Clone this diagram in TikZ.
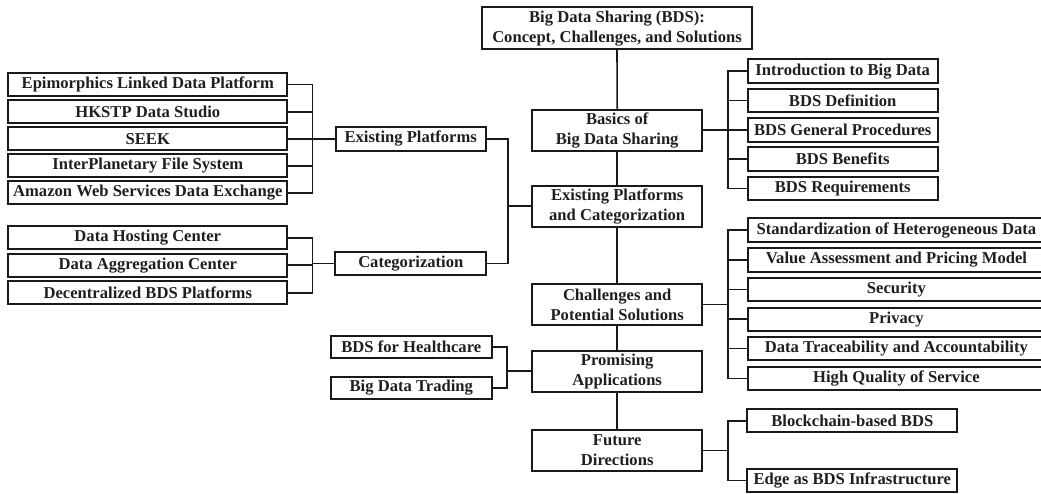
\documentclass[tikz,border=0pt]{standalone}
\usepackage{fontspec}
\setmainfont{Liberation Serif}
\begin{document}
\begin{tikzpicture}[x=1pt,y=-1pt,
  box/.style={draw=black!90,line width=2pt,inner sep=0pt,align=center,
    font=\fontsize{16.6}{19.8}\selectfont\bfseries,text=black!88},
  main/.style={box,minimum width=170.5pt,minimum height=41pt},
  leaf/.style={box,minimum height=23pt},
  link/.style={draw=black!90,line width=1.6pt}]
\useasboundingbox (0,0) rectangle (1041,494);

% central column
\node[box,minimum width=269.4pt,minimum height=41.7pt] (root) at (617,28.2)
  {Big Data Sharing (BDS):\\Concept, Challenges, and Solutions};
\node[main] (basics) at (617.2,130.3) {Basics of\\Big Data Sharing};
\node[main] (epc) at (617.2,206.2) {Existing Platforms\\and Categorization};
\node[main] (chal) at (617.2,304.5) {Challenges and\\Potential Solutions};
\node[main] (prom) at (617.2,371.2) {Promising\\Applications};
\node[main] (fut) at (617.2,450.3) {Future\\Directions};

% left branch: platforms
\node[leaf,minimum width=279pt] (epi) at (147.8,84.7) {Epimorphics Linked Data Platform};
\node[leaf,minimum width=279pt] (hk) at (147.8,111.8) {HKSTP Data Studio};
\node[leaf,minimum width=279pt] (seek) at (147.8,139) {SEEK};
\node[leaf,minimum width=279pt] (ipfs) at (147.8,166) {InterPlanetary File System};
\node[leaf,minimum width=279pt] (aws) at (147.8,193) {Amazon Web Services Data Exchange};
\node[leaf,minimum width=150pt,minimum height=23.7pt] (ep) at (410.7,138.8) {Existing Platforms};

% left branch: categories
\node[leaf,minimum width=279pt] (dhc) at (147.8,238) {Data Hosting Center};
\node[leaf,minimum width=279pt] (dac) at (147.8,265.2) {Data Aggregation Center};
\node[leaf,minimum width=279pt] (dbp) at (147.8,292.8) {Decentralized BDS Platforms};
\node[leaf,minimum width=151pt] (cat) at (410.8,263.7) {Categorization};

% left branch: applications
\node[leaf,minimum width=160.7pt,minimum height=22pt] (hc) at (411.3,346.7) {BDS for Healthcare};
\node[leaf,minimum width=160.7pt,minimum height=22pt] (bdt) at (411.3,388) {Big Data Trading};

% right branch: basics
\node[leaf,minimum width=190pt,minimum height=23.5pt] (intro) at (842.7,71.2) {Introduction to Big Data};
\node[leaf,minimum width=190pt,minimum height=23.5pt] (def) at (842.7,100.5) {BDS Definition};
\node[leaf,minimum width=190pt,minimum height=23.5pt] (proc) at (842.7,129.8) {BDS General Procedures};
\node[leaf,minimum width=190pt,minimum height=23.5pt] (ben) at (842.7,159.2) {BDS Benefits};
\node[leaf,minimum width=190pt,minimum height=23.5pt] (req) at (842.7,188.7) {BDS Requirements};

% right branch: challenges (boxes run past the right edge)
\node[leaf,minimum width=297.3pt,minimum height=23.3pt] (std) at (896.4,230) {Standardization of Heterogeneous Data};
\node[leaf,minimum width=297.3pt,minimum height=23.3pt] (val) at (896.4,260) {Value Assessment and Pricing Model};
\node[leaf,minimum width=297.3pt,minimum height=23.3pt] (sec) at (896.4,289.5) {Security};
\node[leaf,minimum width=297.3pt,minimum height=23.3pt] (priv) at (896.4,319.2) {Privacy};
\node[leaf,minimum width=297.3pt,minimum height=23.3pt] (trace) at (896.4,348.3) {Data Traceability and Accountability};
\node[leaf,minimum width=297.3pt,minimum height=23.3pt] (qos) at (896.4,378.3) {High Quality of Service};

% right branch: future directions
\node[leaf,minimum width=210pt,minimum height=23.5pt] (bc) at (852.3,420.7) {Blockchain-based BDS};
\node[leaf,minimum width=210pt,minimum height=23.5pt] (edge) at (852.3,480.5) {Edge as BDS Infrastructure};

% junction points of the brackets
\coordinate (jplat) at (312.3,138.8);
\coordinate (jcat) at (312.3,263.7);
\coordinate (jepc) at (508,206.2);
\coordinate (japp) at (506.7,371.2);
\coordinate (jbas) at (727.7,130.3);
\coordinate (jchal) at (727.7,304.5);
\coordinate (jfut) at (727.7,450.3);

% spine
\draw[link] (root.south) -- (basics.north);
\draw[link] (basics.south) -- (epc.north);
\draw[link] (epc.south) -- (chal.north);
\draw[link] (chal.south) -- (prom.north);
\draw[link] (prom.south) -- (fut.north);

% left brackets
\foreach \n in {epi,hk,seek,ipfs,aws} \draw[link] (\n.east) -| (jplat);
\draw[link] (jplat) -- (ep.west);
\foreach \n in {dhc,dac,dbp} \draw[link] (\n.east) -| (jcat);
\draw[link] (jcat) -- (cat.west);
\draw[link] (ep.east) -| (jepc);
\draw[link] (cat.east) -| (jepc);
\draw[link] (jepc) -- (epc.west);
\draw[link] (hc.east) -| (japp);
\draw[link] (bdt.east) -| (japp);
\draw[link] (japp) -- (prom.west);

% right brackets
\draw[link] (basics.east) -- (jbas);
\foreach \n in {intro,def,proc,ben,req} \draw[link] (jbas) |- (\n.west);
\draw[link] (chal.east) -- (jchal);
\foreach \n in {std,val,sec,priv,trace,qos} \draw[link] (jchal) |- (\n.west);
\draw[link] (fut.east) -- (jfut);
\foreach \n in {bc,edge} \draw[link] (jfut) |- (\n.west);
\end{tikzpicture}
\end{document}
